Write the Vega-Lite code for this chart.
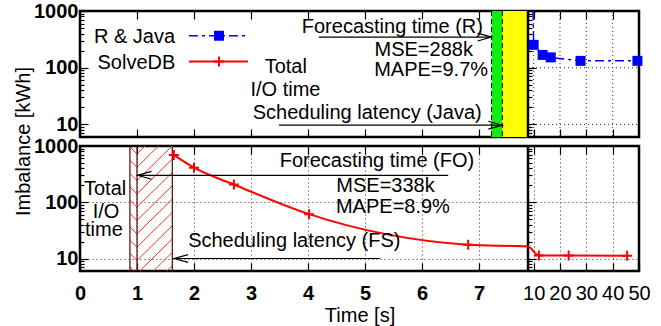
{
  "$schema": "https://vega.github.io/schema/vega-lite/v6.json",
  "autosize": {"type": "pad"},
  "padding": {"left": 11, "top": -1, "right": 0, "bottom": 0},
  "background": "white",
  "config": {
    "font": "Liberation Sans",
    "view": {"stroke": "black", "strokeWidth": 2.5},
    "axis": {"domain": false, "grid": false, "labelFontSize": 20, "titleFontSize": 20, "titleFontWeight": "normal", "labelColor": "black", "titleColor": "black", "tickColor": "black", "tickWidth": 1.2, "labelFlush": false, "labelOverlap": false, "labelBound": false},
    "text": {"font": "Liberation Sans", "fontSize": 20, "color": "black"}
  },
  "datasets": {
    "rjava": [{"x":9.5,"y":5000,"pt":0},{"x":10.0,"y":253,"pt":1},{"x":13.4,"y":168,"pt":1},{"x":16.5,"y":152,"pt":1},{"x":27.8,"y":132,"pt":1},{"x":49.4,"y":132,"pt":1}],
    "solvedb": [{"x":1.646,"y":695,"pt":1},{"x":2.0,"y":411,"pt":1},{"x":2.7,"y":207,"pt":1},{"x":4.02,"y":61.5,"pt":1},{"x":6.81,"y":17.6,"pt":1},{"x":7.86,"y":16.3,"pt":0},{"x":12.0,"y":11.3,"pt":1},{"x":23.3,"y":11.3,"pt":1},{"x":45.5,"y":11.2,"pt":1}],
    "phasesTop": [{"phase":"forecast","x":7.22,"x2":7.41},{"phase":"schedule","x":7.41,"x2":7.86}],
    "gridTopH": [{"x":7.86,"x2":50,"y":10},{"x":7.86,"x2":50,"y":100}],
    "gridTopV": [{"x":10},{"x":20},{"x":30},{"x":40}],
    "breakX": [{"x":7.86}],
    "legendLines": [{"s":"R & Java","x":1.912,"y":366},{"s":"R & Java","x":2.947,"y":366},{"s":"SolveDB","x":1.912,"y":129},{"s":"SolveDB","x":2.947,"y":129}],
    "legendMarks": [{"s":"R & Java","x":2.439,"y":366},{"s":"SolveDB","x":2.439,"y":129}],
    "textsTop": [
      {"t":"R & Java","x":0.956,"y":347},
      {"t":"SolveDB","x":0.99,"y":120},
      {"t":"Forecasting time (R)","x":5.48,"y":532},
      {"t":"MSE=288k","x":6.03,"y":206},
      {"t":"MAPE=9.7%","x":6.16,"y":91.4},
      {"t":"Total","x":3.61,"y":102},
      {"t":"I/O time","x":3.605,"y":40.8},
      {"t":"Scheduling latency (Java)","x":5.04,"y":16.0}
    ],
    "arrowsTop": [{"x":4.19,"x2":7.22,"y":347},{"x":3.49,"x2":7.41,"y":9.7}],
    "textsBottom": [
      {"t":"Forecasting time (FO)","x":5.21,"y":535},
      {"t":"MSE=338k","x":5.36,"y":191},
      {"t":"MAPE=8.9%","x":5.49,"y":81.7},
      {"t":"Total","x":0.44,"y":172.6},
      {"t":"I/O","x":0.456,"y":66.8},
      {"t":"time","x":0.42,"y":31.6},
      {"t":"Scheduling latency (FS)","x":3.76,"y":20.7}
    ],
    "arrowsBottom": [{"x":1.01,"x2":6.46,"y":301},{"x":1.65,"x2":5.27,"y":10}],
    "ioBounds": [{"x":0.876},{"x":1.0},{"x":1.62}],
    "hatchSlash": [
      {"x":1.0,"x2":1.62,"y":1249,"y2":5200},{"x":1.0,"x2":1.62,"y":724,"y2":3014},{"x":1.0,"x2":1.62,"y":420,"y2":1748},
      {"x":1.0,"x2":1.62,"y":243,"y2":1012},{"x":1.0,"x2":1.62,"y":141,"y2":587},{"x":1.0,"x2":1.62,"y":81.7,"y2":340},
      {"x":1.0,"x2":1.62,"y":47.4,"y2":197.3},{"x":1.0,"x2":1.62,"y":27.4,"y2":114.1},{"x":1.0,"x2":1.62,"y":15.9,"y2":66.2},
      {"x":1.0,"x2":1.62,"y":9.22,"y2":38.4},{"x":1.0,"x2":1.62,"y":5.35,"y2":22.3},{"x":1.0,"x2":1.62,"y":3.10,"y2":12.9},
      {"x":1.0,"x2":1.62,"y":1.80,"y2":7.49}
    ],
    "hatchBack": [
      {"x":0.876,"x2":1.0,"y":1664,"y2":1249},{"x":0.876,"x2":1.0,"y":964,"y2":724},{"x":0.876,"x2":1.0,"y":559,"y2":420},
      {"x":0.876,"x2":1.0,"y":324,"y2":243},{"x":0.876,"x2":1.0,"y":188,"y2":141},{"x":0.876,"x2":1.0,"y":108.8,"y2":81.7},
      {"x":0.876,"x2":1.0,"y":63.1,"y2":47.4},{"x":0.876,"x2":1.0,"y":36.5,"y2":27.4},{"x":0.876,"x2":1.0,"y":21.2,"y2":15.9},
      {"x":0.876,"x2":1.0,"y":12.28,"y2":9.22},{"x":0.876,"x2":1.0,"y":7.13,"y2":5.35},{"x":0.876,"x2":1.0,"y":4.13,"y2":3.10},
      {"x":0.876,"x2":1.0,"y":2.40,"y2":1.80}
    ]
  },
  "spacing": 9,
  "bounds": "flush",
  "vconcat": [
    {
      "width": 559, "height": 126,
      "resolve": {"axis": {"x": "independent", "y": "independent"}},
      "layer": [
        {"data": {"name": "phasesTop"}, "transform": [{"filter": "datum.phase == 'forecast'"}],
         "mark": {"type": "rect", "color": "#11ee11"},
         "encoding": {"x": {"field": "x", "type": "quantitative", "scale": {"domain":[0,7.86,50],"range":[0,448,559],"zero":false,"nice":false}, "axis": null}, "x2": {"field": "x2"}}},
        {"data": {"name": "phasesTop"}, "transform": [{"filter": "datum.phase == 'schedule'"}],
         "mark": {"type": "rect", "color": "#ffff00"},
         "encoding": {"x": {"field": "x", "type": "quantitative", "scale": {"domain":[0,7.86,50],"range":[0,448,559],"zero":false,"nice":false}, "axis": null}, "x2": {"field": "x2"}}},
        {"data": {"name": "phasesTop"},
         "mark": {"type": "rule", "color": "black", "strokeWidth": 1, "strokeDash": [5, 3]},
         "encoding": {"x": {"field": "x", "type": "quantitative", "scale": {"domain":[0,7.86,50],"range":[0,448,559],"zero":false,"nice":false}, "axis": null}}},
        {"data": {"name": "gridTopH"},
         "mark": {"type": "rule", "color": "#333333", "strokeWidth": 1, "strokeDash": [1, 3]},
         "encoding": {
           "x": {"field": "x", "type": "quantitative", "scale": {"domain":[0,7.86,50],"range":[0,448,559],"zero":false,"nice":false},
                 "axis": {"orient": "bottom", "values": [1,2,3,4,5,6,7,10,20,30,40], "labels": false, "tickSize": -8, "title": null}},
           "x2": {"field": "x2"},
           "y": {"field": "y", "type": "quantitative", "scale": {"type": "log", "domain": [6, 1000], "nice": false},
                 "axis": {"orient": "left", "values": [6,7,8,9,10,20,30,40,50,60,70,80,90,100,200,300,400,500,600,700,800,900,1000], "format": "d",
                          "labelExpr": "datum.value==10||datum.value==100||datum.value==1000 ? datum.label : ''",
                          "labelFontWeight": "bold",
                          "tickSize": {"condition": {"test": "datum.value==10||datum.value==100||datum.value==1000", "value": -8}, "value": -4},
                          "labelPadding": 10, "title": "Imbalance [kWh]", "titleX": -57, "titleY": 130, "titleAngle": -90, "titleAlign": "center", "titleBaseline": "middle"}}
         }},
        {"data": {"name": "gridTopV"},
         "mark": {"type": "rule", "color": "#333333", "strokeWidth": 1, "strokeDash": [1, 3]},
         "encoding": {"x": {"field": "x", "type": "quantitative", "scale": {"domain":[0,7.86,50],"range":[0,448,559],"zero":false,"nice":false}, "axis": null}}},
        {"data": {"name": "breakX"},
         "mark": {"type": "rule", "color": "black", "strokeWidth": 2.5},
         "encoding": {"x": {"field": "x", "type": "quantitative", "scale": {"domain":[0,7.86,50],"range":[0,448,559],"zero":false,"nice":false}, "axis": null}}},
        {"data": {"name": "rjava"},
         "mark": {"type": "line", "color": "#0000ff", "strokeWidth": 1.5, "strokeDash": [9, 4, 3, 4], "clip": true},
         "encoding": {
           "x": {"field": "x", "type": "quantitative", "scale": {"domain":[0,7.86,50],"range":[0,448,559],"zero":false,"nice":false},
                 "axis": {"orient": "top", "values": [1,2,3,4,5,6,7,10,20,30,40], "labels": false, "tickSize": -8, "title": null}},
           "y": {"field": "y", "type": "quantitative", "scale": {"type": "log", "domain": [6, 1000], "nice": false},
                 "axis": {"orient": "right", "offset": -111, "values": [6,7,8,9,10,20,30,40,50,60,70,80,90,100,200,300,400,500,600,700,800,900,1000], "labels": false,
                          "tickSize": {"condition": {"test": "datum.value==10||datum.value==100||datum.value==1000", "value": 8}, "value": 4}, "title": null}}
         }},
        {"data": {"name": "rjava"}, "transform": [{"filter": "datum.pt == 1"}],
         "mark": {"type": "point", "shape": "square", "filled": true, "color": "#0000ff", "size": 100, "opacity": 1},
         "encoding": {
           "x": {"field": "x", "type": "quantitative", "scale": {"domain":[0,7.86,50],"range":[0,448,559],"zero":false,"nice":false}, "axis": null},
           "y": {"field": "y", "type": "quantitative", "scale": {"type": "log", "domain": [6, 1000], "nice": false}, "axis": null}}},
        {"data": {"name": "legendLines"}, "transform": [{"filter": "datum.s == 'R & Java'"}],
         "mark": {"type": "line", "color": "#0000ff", "strokeWidth": 1.5, "strokeDash": [9, 4, 3, 4]},
         "encoding": {
           "x": {"field": "x", "type": "quantitative", "scale": {"domain":[0,7.86,50],"range":[0,448,559],"zero":false,"nice":false}, "axis": null},
           "y": {"field": "y", "type": "quantitative", "scale": {"type": "log", "domain": [6, 1000], "nice": false}, "axis": null}}},
        {"data": {"name": "legendLines"}, "transform": [{"filter": "datum.s == 'SolveDB'"}],
         "mark": {"type": "line", "color": "#ff0000", "strokeWidth": 2},
         "encoding": {
           "x": {"field": "x", "type": "quantitative", "scale": {"domain":[0,7.86,50],"range":[0,448,559],"zero":false,"nice":false}, "axis": null},
           "y": {"field": "y", "type": "quantitative", "scale": {"type": "log", "domain": [6, 1000], "nice": false}, "axis": null}}},
        {"data": {"name": "legendMarks"}, "transform": [{"filter": "datum.s == 'R & Java'"}],
         "mark": {"type": "point", "shape": "square", "filled": true, "color": "#0000ff", "size": 100, "opacity": 1},
         "encoding": {
           "x": {"field": "x", "type": "quantitative", "scale": {"domain":[0,7.86,50],"range":[0,448,559],"zero":false,"nice":false}, "axis": null},
           "y": {"field": "y", "type": "quantitative", "scale": {"type": "log", "domain": [6, 1000], "nice": false}, "axis": null}}},
        {"data": {"name": "legendMarks"}, "transform": [{"filter": "datum.s == 'SolveDB'"}],
         "mark": {"type": "point", "shape": "M-1,0H1M0,-1V1", "filled": false, "color": "#ff0000", "strokeWidth": 2, "size": 100, "opacity": 1},
         "encoding": {
           "x": {"field": "x", "type": "quantitative", "scale": {"domain":[0,7.86,50],"range":[0,448,559],"zero":false,"nice":false}, "axis": null},
           "y": {"field": "y", "type": "quantitative", "scale": {"type": "log", "domain": [6, 1000], "nice": false}, "axis": null}}},
        {"data": {"name": "arrowsTop"},
         "mark": {"type": "rule", "color": "black", "strokeWidth": 1.2},
         "encoding": {
           "x": {"field": "x", "type": "quantitative", "scale": {"domain":[0,7.86,50],"range":[0,448,559],"zero":false,"nice":false}, "axis": null},
           "x2": {"field": "x2"},
           "y": {"field": "y", "type": "quantitative", "scale": {"type": "log", "domain": [6, 1000], "nice": false}, "axis": null}}},
        {"data": {"name": "arrowsTop"},
         "mark": {"type": "point", "shape": "M-1,-0.28L0,0L-1,0.28", "filled": false, "color": "black", "strokeWidth": 1.2, "size": 784, "opacity": 1},
         "encoding": {
           "x": {"field": "x2", "type": "quantitative", "scale": {"domain":[0,7.86,50],"range":[0,448,559],"zero":false,"nice":false}, "axis": null},
           "y": {"field": "y", "type": "quantitative", "scale": {"type": "log", "domain": [6, 1000], "nice": false}, "axis": null}}},
        {"data": {"name": "textsTop"},
         "mark": {"type": "text", "align": "center", "baseline": "middle"},
         "encoding": {
           "x": {"field": "x", "type": "quantitative", "scale": {"domain":[0,7.86,50],"range":[0,448,559],"zero":false,"nice":false}, "axis": null},
           "y": {"field": "y", "type": "quantitative", "scale": {"type": "log", "domain": [6, 1000], "nice": false}, "axis": null},
           "text": {"field": "t"}}}
      ]
    },
    {
      "width": 559, "height": 125,
      "resolve": {"axis": {"x": "independent", "y": "independent"}},
      "layer": [
        {"data": {"name": "hatchSlash"},
         "mark": {"type": "rule", "color": "#ff3030", "strokeWidth": 1, "clip": true},
         "encoding": {
           "x": {"field": "x", "type": "quantitative", "scale": {"domain":[0,7.86,50],"range":[0,448,559],"zero":false,"nice":false}, "axis": null},
           "x2": {"field": "x2"},
           "y": {"field": "y", "type": "quantitative", "scale": {"type": "log", "domain": [6, 1000], "nice": false}, "axis": null},
           "y2": {"field": "y2"}}},
        {"data": {"name": "hatchBack"},
         "mark": {"type": "rule", "color": "#ff3030", "strokeWidth": 1, "clip": true},
         "encoding": {
           "x": {"field": "x", "type": "quantitative", "scale": {"domain":[0,7.86,50],"range":[0,448,559],"zero":false,"nice":false}, "axis": null},
           "x2": {"field": "x2"},
           "y": {"field": "y", "type": "quantitative", "scale": {"type": "log", "domain": [6, 1000], "nice": false}, "axis": null},
           "y2": {"field": "y2"}}},
        {"data": {"name": "ioBounds"},
         "mark": {"type": "rule", "color": "#5c1a1a", "strokeWidth": 1.3},
         "encoding": {"x": {"field": "x", "type": "quantitative", "scale": {"domain":[0,7.86,50],"range":[0,448,559],"zero":false,"nice":false}, "axis": null}}},
        {"data": {"name": "breakX"},
         "mark": {"type": "rule", "color": "black", "strokeWidth": 2.5},
         "encoding": {"x": {"field": "x", "type": "quantitative", "scale": {"domain":[0,7.86,50],"range":[0,448,559],"zero":false,"nice":false}, "axis": null}}},
        {"data": {"name": "solvedb"},
         "mark": {"type": "line", "color": "#ff0000", "strokeWidth": 2, "interpolate": "monotone", "clip": true},
         "encoding": {
           "x": {"field": "x", "type": "quantitative", "scale": {"domain":[0,7.86,50],"range":[0,448,559],"zero":false,"nice":false},
                 "axis": {"orient": "bottom", "values": [0,1,2,3,4,5,6,7,10,20,30,40,50], "format": "d", "tickSize": -8, "labelPadding": 20,
                          "labelFontWeight": {"condition": {"test": "datum.value < 8", "value": "bold"}, "value": "normal"},
                          "title": "Time [s]", "titlePadding": 2,
                          "grid": true, "gridDash": [1, 3], "gridColor": "#333333",
                          "gridOpacity": {"condition": {"test": "datum.value>0 && datum.value<50", "value": 1}, "value": 0}}},
           "y": {"field": "y", "type": "quantitative", "scale": {"type": "log", "domain": [6, 1000], "nice": false},
                 "axis": {"orient": "left", "values": [6,7,8,9,10,20,30,40,50,60,70,80,90,100,200,300,400,500,600,700,800,900,1000], "format": "d",
                          "labelExpr": "datum.value==10||datum.value==100||datum.value==1000 ? datum.label : ''",
                          "labelFontWeight": "bold",
                          "tickSize": {"condition": {"test": "datum.value==10||datum.value==100||datum.value==1000", "value": -8}, "value": -4},
                          "labelPadding": 10, "title": null,
                          "grid": true, "gridDash": [1, 3], "gridColor": "#333333",
                          "gridOpacity": {"condition": {"test": "datum.value==10||datum.value==100", "value": 1}, "value": 0}}}
         }},
        {"data": {"name": "solvedb"}, "transform": [{"filter": "datum.pt == 1"}],
         "mark": {"type": "point", "shape": "M-1,0H1M0,-1V1", "filled": false, "color": "#ff0000", "strokeWidth": 2, "size": 100, "opacity": 1},
         "encoding": {
           "x": {"field": "x", "type": "quantitative", "scale": {"domain":[0,7.86,50],"range":[0,448,559],"zero":false,"nice":false},
                 "axis": {"orient": "top", "values": [1,2,3,4,5,6,7,10,20,30,40], "labels": false, "tickSize": -8, "title": null}},
           "y": {"field": "y", "type": "quantitative", "scale": {"type": "log", "domain": [6, 1000], "nice": false},
                 "axis": {"orient": "right", "offset": -111, "values": [6,7,8,9,10,20,30,40,50,60,70,80,90,100,200,300,400,500,600,700,800,900,1000], "labels": false,
                          "tickSize": {"condition": {"test": "datum.value==10||datum.value==100||datum.value==1000", "value": 8}, "value": 4}, "title": null}}
         }},
        {"data": {"name": "arrowsBottom"},
         "mark": {"type": "rule", "color": "black", "strokeWidth": 1.2},
         "encoding": {
           "x": {"field": "x", "type": "quantitative", "scale": {"domain":[0,7.86,50],"range":[0,448,559],"zero":false,"nice":false}, "axis": null},
           "x2": {"field": "x2"},
           "y": {"field": "y", "type": "quantitative", "scale": {"type": "log", "domain": [6, 1000], "nice": false}, "axis": null}}},
        {"data": {"name": "arrowsBottom"},
         "mark": {"type": "point", "shape": "M1,-0.28L0,0L1,0.28", "filled": false, "color": "black", "strokeWidth": 1.2, "size": 784, "opacity": 1},
         "encoding": {
           "x": {"field": "x", "type": "quantitative", "scale": {"domain":[0,7.86,50],"range":[0,448,559],"zero":false,"nice":false}, "axis": null},
           "y": {"field": "y", "type": "quantitative", "scale": {"type": "log", "domain": [6, 1000], "nice": false}, "axis": null}}},
        {"data": {"name": "textsBottom"},
         "mark": {"type": "text", "align": "center", "baseline": "middle"},
         "encoding": {
           "x": {"field": "x", "type": "quantitative", "scale": {"domain":[0,7.86,50],"range":[0,448,559],"zero":false,"nice":false}, "axis": null},
           "y": {"field": "y", "type": "quantitative", "scale": {"type": "log", "domain": [6, 1000], "nice": false}, "axis": null},
           "text": {"field": "t"}}}
      ]
    }
  ]
}
